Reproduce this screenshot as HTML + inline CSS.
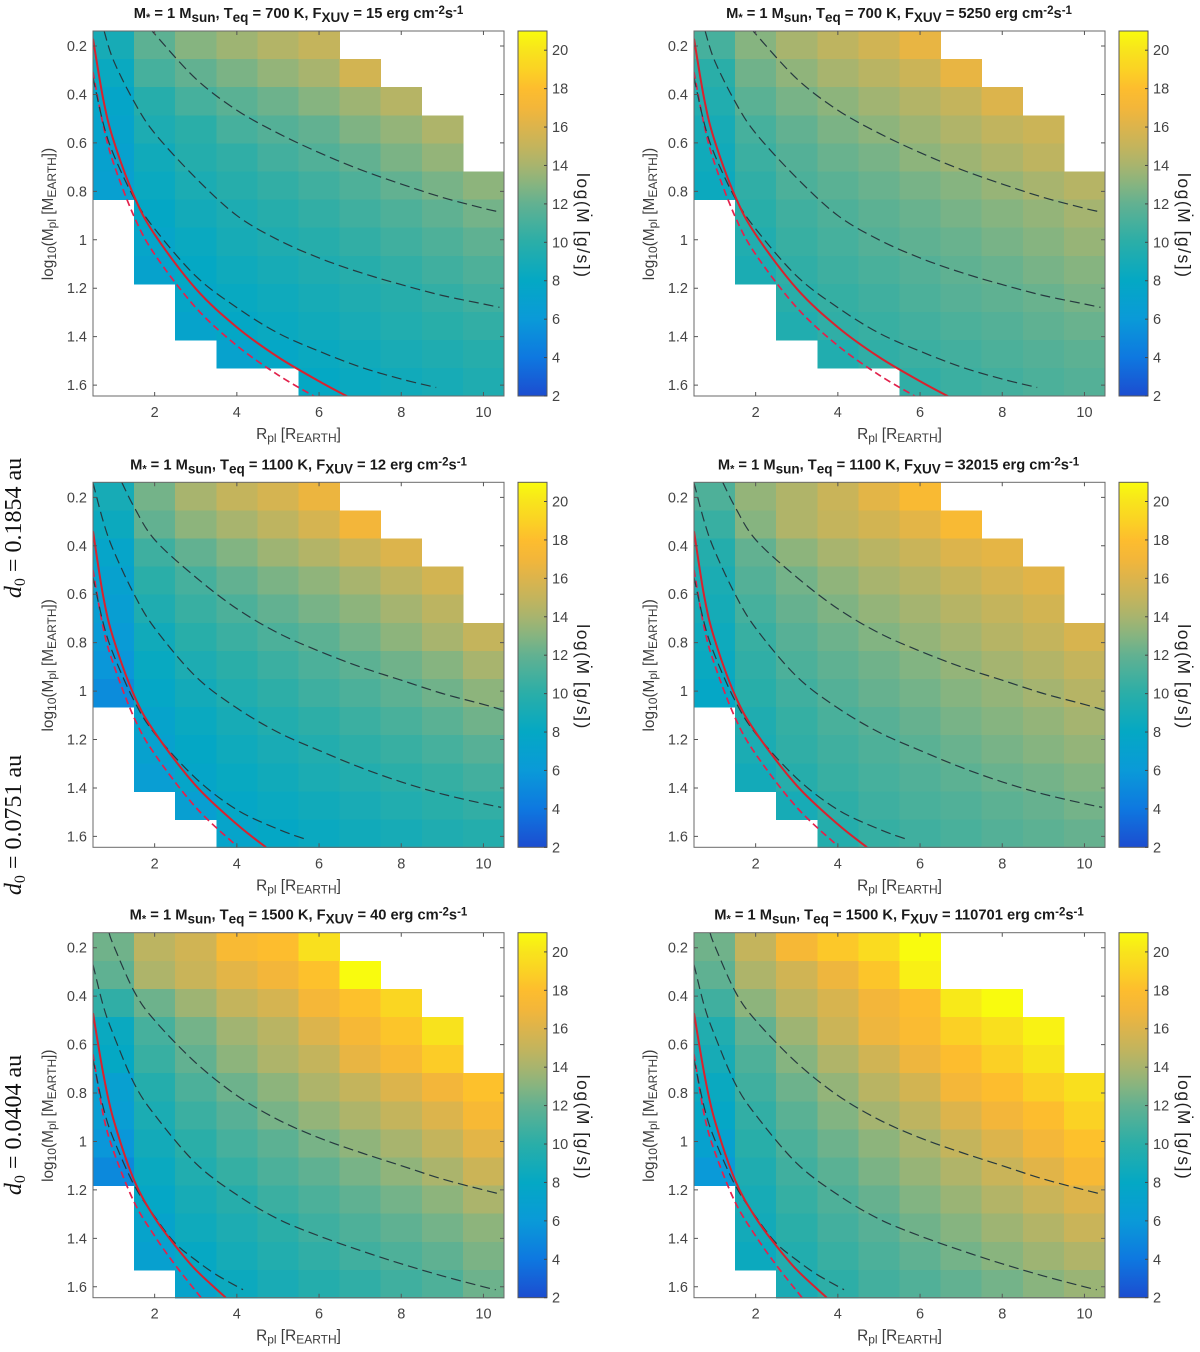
<!DOCTYPE html>
<html lang="en">
<head>
<meta charset="utf-8">
<title>Mass-loss rate heatmaps</title>
<style>
html,body{margin:0;padding:0;background:#fff;}
svg{display:block;}
text{font-family:"Liberation Sans",sans-serif;fill:#404040;}
.title{font-size:14.7px;font-weight:bold;fill:#1a1a1a;text-anchor:middle;}
.axt{font-size:15.4px;fill:#3c3c3c;text-anchor:middle;}
.tick{font-size:14.5px;fill:#444;}
.cbl{font-size:17.5px;fill:#222;text-anchor:middle;}
.side{font-family:"Liberation Serif",serif;font-size:24px;fill:#111;text-anchor:middle;}
</style>
</head>
<body>
<svg id="figure" xmlns="http://www.w3.org/2000/svg" width="1200" height="1352" viewBox="0 0 1200 1352">
<defs id="defs"></defs>
<rect width="1200" height="1352" fill="#fff"></rect>

<text class="side" transform="translate(21,528) rotate(-90)"><tspan font-style="italic">d</tspan><tspan font-size="16" dy="4">0</tspan><tspan dy="-4"> = 0.1854 au</tspan></text>
<text class="side" transform="translate(21,825) rotate(-90)"><tspan font-style="italic">d</tspan><tspan font-size="16" dy="4">0</tspan><tspan dy="-4"> = 0.0751 au</tspan></text>
<text class="side" transform="translate(21,1125) rotate(-90)"><tspan font-style="italic">d</tspan><tspan font-size="16" dy="4">0</tspan><tspan dy="-4"> = 0.0404 au</tspan></text>

<g id="panel-a" transform="translate(0,0)">
<g class="plot"></g>
<text class="title" x="298.5" y="18">M<tspan font-size="11" dy="3">*</tspan><tspan dy="-3"> = 1 M</tspan><tspan font-size="13.5" dy="4">sun</tspan><tspan dy="-4">, T</tspan><tspan font-size="13.5" dy="4">eq</tspan><tspan dy="-4"> = 700 K, F</tspan><tspan font-size="13.5" dy="4">XUV</tspan><tspan dy="-4"> = 15 erg cm</tspan><tspan font-size="11.5" dy="-4">-2</tspan><tspan dy="4">s</tspan><tspan font-size="11.5" dy="-4">-1</tspan></text>
<text class="axt" transform="translate(53,214) rotate(-90)">log<tspan font-size="12" dy="3">10</tspan><tspan dy="-3">(M</tspan><tspan font-size="12" dy="3">pl</tspan><tspan dy="-3"> [M</tspan><tspan font-size="12" dy="3">EARTH</tspan><tspan dy="-3">])</tspan></text>
<text class="axt" x="298.5" y="439">R<tspan font-size="12" dy="3">pl</tspan><tspan dy="-3"> [R</tspan><tspan font-size="12" dy="3">EARTH</tspan><tspan dy="-3">]</tspan></text>
<text class="cbl" transform="translate(577,225) rotate(90)" textLength="104">log(Ṁ [g/s])</text>
</g>

<g id="panel-b" transform="translate(601,0)">
<g class="plot"></g>
<text class="title" x="298" y="18">M<tspan font-size="11" dy="3">*</tspan><tspan dy="-3"> = 1 M</tspan><tspan font-size="13.5" dy="4">sun</tspan><tspan dy="-4">, T</tspan><tspan font-size="13.5" dy="4">eq</tspan><tspan dy="-4"> = 700 K, F</tspan><tspan font-size="13.5" dy="4">XUV</tspan><tspan dy="-4"> = 5250 erg cm</tspan><tspan font-size="11.5" dy="-4">-2</tspan><tspan dy="4">s</tspan><tspan font-size="11.5" dy="-4">-1</tspan></text>
<text class="axt" transform="translate(53,214) rotate(-90)">log<tspan font-size="12" dy="3">10</tspan><tspan dy="-3">(M</tspan><tspan font-size="12" dy="3">pl</tspan><tspan dy="-3"> [M</tspan><tspan font-size="12" dy="3">EARTH</tspan><tspan dy="-3">])</tspan></text>
<text class="axt" x="298.5" y="439">R<tspan font-size="12" dy="3">pl</tspan><tspan dy="-3"> [R</tspan><tspan font-size="12" dy="3">EARTH</tspan><tspan dy="-3">]</tspan></text>
<text class="cbl" transform="translate(577,225) rotate(90)" textLength="104">log(Ṁ [g/s])</text>
</g>

<g id="panel-c" transform="translate(0,451.3)">
<g class="plot"></g>
<text class="title" x="298.5" y="18">M<tspan font-size="11" dy="3">*</tspan><tspan dy="-3"> = 1 M</tspan><tspan font-size="13.5" dy="4">sun</tspan><tspan dy="-4">, T</tspan><tspan font-size="13.5" dy="4">eq</tspan><tspan dy="-4"> = 1100 K, F</tspan><tspan font-size="13.5" dy="4">XUV</tspan><tspan dy="-4"> = 12 erg cm</tspan><tspan font-size="11.5" dy="-4">-2</tspan><tspan dy="4">s</tspan><tspan font-size="11.5" dy="-4">-1</tspan></text>
<text class="axt" transform="translate(53,214) rotate(-90)">log<tspan font-size="12" dy="3">10</tspan><tspan dy="-3">(M</tspan><tspan font-size="12" dy="3">pl</tspan><tspan dy="-3"> [M</tspan><tspan font-size="12" dy="3">EARTH</tspan><tspan dy="-3">])</tspan></text>
<text class="axt" x="298.5" y="439">R<tspan font-size="12" dy="3">pl</tspan><tspan dy="-3"> [R</tspan><tspan font-size="12" dy="3">EARTH</tspan><tspan dy="-3">]</tspan></text>
<text class="cbl" transform="translate(577,225) rotate(90)" textLength="104">log(Ṁ [g/s])</text>
</g>

<g id="panel-d" transform="translate(601,451.3)">
<g class="plot"></g>
<text class="title" x="297.5" y="18">M<tspan font-size="11" dy="3">*</tspan><tspan dy="-3"> = 1 M</tspan><tspan font-size="13.5" dy="4">sun</tspan><tspan dy="-4">, T</tspan><tspan font-size="13.5" dy="4">eq</tspan><tspan dy="-4"> = 1100 K, F</tspan><tspan font-size="13.5" dy="4">XUV</tspan><tspan dy="-4"> = 32015 erg cm</tspan><tspan font-size="11.5" dy="-4">-2</tspan><tspan dy="4">s</tspan><tspan font-size="11.5" dy="-4">-1</tspan></text>
<text class="axt" transform="translate(53,214) rotate(-90)">log<tspan font-size="12" dy="3">10</tspan><tspan dy="-3">(M</tspan><tspan font-size="12" dy="3">pl</tspan><tspan dy="-3"> [M</tspan><tspan font-size="12" dy="3">EARTH</tspan><tspan dy="-3">])</tspan></text>
<text class="axt" x="298.5" y="439">R<tspan font-size="12" dy="3">pl</tspan><tspan dy="-3"> [R</tspan><tspan font-size="12" dy="3">EARTH</tspan><tspan dy="-3">]</tspan></text>
<text class="cbl" transform="translate(577,225) rotate(90)" textLength="104">log(Ṁ [g/s])</text>
</g>

<g id="panel-e" transform="translate(0,901.7)">
<g class="plot"></g>
<text class="title" x="298.5" y="18">M<tspan font-size="11" dy="3">*</tspan><tspan dy="-3"> = 1 M</tspan><tspan font-size="13.5" dy="4">sun</tspan><tspan dy="-4">, T</tspan><tspan font-size="13.5" dy="4">eq</tspan><tspan dy="-4"> = 1500 K, F</tspan><tspan font-size="13.5" dy="4">XUV</tspan><tspan dy="-4"> = 40 erg cm</tspan><tspan font-size="11.5" dy="-4">-2</tspan><tspan dy="4">s</tspan><tspan font-size="11.5" dy="-4">-1</tspan></text>
<text class="axt" transform="translate(53,214) rotate(-90)">log<tspan font-size="12" dy="3">10</tspan><tspan dy="-3">(M</tspan><tspan font-size="12" dy="3">pl</tspan><tspan dy="-3"> [M</tspan><tspan font-size="12" dy="3">EARTH</tspan><tspan dy="-3">])</tspan></text>
<text class="axt" x="298.5" y="439">R<tspan font-size="12" dy="3">pl</tspan><tspan dy="-3"> [R</tspan><tspan font-size="12" dy="3">EARTH</tspan><tspan dy="-3">]</tspan></text>
<text class="cbl" transform="translate(577,225) rotate(90)" textLength="104">log(Ṁ [g/s])</text>
</g>

<g id="panel-f" transform="translate(601,901.7)">
<g class="plot"></g>
<text class="title" x="298" y="18">M<tspan font-size="11" dy="3">*</tspan><tspan dy="-3"> = 1 M</tspan><tspan font-size="13.5" dy="4">sun</tspan><tspan dy="-4">, T</tspan><tspan font-size="13.5" dy="4">eq</tspan><tspan dy="-4"> = 1500 K, F</tspan><tspan font-size="13.5" dy="4">XUV</tspan><tspan dy="-4"> = 110701 erg cm</tspan><tspan font-size="11.5" dy="-4">-2</tspan><tspan dy="4">s</tspan><tspan font-size="11.5" dy="-4">-1</tspan></text>
<text class="axt" transform="translate(53,214) rotate(-90)">log<tspan font-size="12" dy="3">10</tspan><tspan dy="-3">(M</tspan><tspan font-size="12" dy="3">pl</tspan><tspan dy="-3"> [M</tspan><tspan font-size="12" dy="3">EARTH</tspan><tspan dy="-3">])</tspan></text>
<text class="axt" x="298.5" y="439">R<tspan font-size="12" dy="3">pl</tspan><tspan dy="-3"> [R</tspan><tspan font-size="12" dy="3">EARTH</tspan><tspan dy="-3">]</tspan></text>
<text class="cbl" transform="translate(577,225) rotate(90)" textLength="104">log(Ṁ [g/s])</text>
</g>
</svg>

<script>
// ---- categories and tick labels ----
const radii = [1,2,3,4,5,6,7,8,9,10];
const massBins = [0.196,0.312,0.428,0.544,0.660,0.776,0.892,1.008,1.124,1.240,1.356,1.472,1.588];
const xTickValues = [2,4,6,8,10];
const yTickValues = [0.2,0.4,0.6,0.8,1,1.2,1.4,1.6];
const cbTickValues = [2,4,6,8,10,12,14,16,18,20];

// ---- colour scale ----
const cbStopValues = [2,4,6,8,10,12,13,14,15,16,17,18,19,20,21];
const cbStopColors = ['#1c4dd0','#0e78e0','#0a9ad8','#04a8c4','#2aaea8','#62b191','#86b480','#a8b46e','#c4b45c','#dcb44c','#f3b63a','#fdbd2e','#fbd224','#f8e41c','#f9fb0e'];

// ---- log mass-loss rate per cell (rows: mass bins, columns: radii) ----
const _ = null;
const mdotA = [
[9,11.8,13,13.7,14.4,15,_,_,_,_],
[8.3,11,12,12.7,13.4,14,15.6,_,_,_],
[7.6,9.8,11,11.7,12.3,13,13.7,14.5,_,_],
[7.3,9.3,10,11,11.5,12,12.8,13.4,14.2,_],
[7,8.7,9.7,10.2,10.9,11.4,12,12.7,13.4,_],
[6.8,8.3,9.2,9.8,10.3,10.8,11.3,12,12.6,13.2],
[_,7.9,8.8,9.3,9.8,10.3,10.8,11.3,11.9,12.5],
[_,7.5,8.3,9,9.4,9.8,10.3,10.8,11.3,11.9],
[_,7.2,8,8.6,9,9.4,9.8,10.3,10.8,11.3],
[_,_,7.7,8.2,8.6,9,9.4,9.8,10.3,10.8],
[_,_,7.3,7.9,8.3,8.7,9.1,9.5,9.9,10.3],
[_,_,_,7.1,7.8,8.3,8.7,9.1,9.4,9.8],
[_,_,_,_,_,8,8.3,8.7,9,9.4]];
const mdotB = [
[11,13,14,14.8,15.5,16.5,_,_,_,_],
[10,12.4,13.3,14,14.6,15.3,16.5,_,_,_],
[9.5,11.7,12.6,13.2,13.8,14.4,15,16,_,_],
[9,11,12,12.7,13.2,13.7,14.3,14.9,15.3,_],
[8.7,10.6,11.5,12.2,12.6,13.2,13.7,14.2,14.8,_],
[8.4,10.2,11.2,11.7,12.2,12.6,13,13.5,14,14.5],
[_,9.9,10.8,11.3,11.8,12.2,12.6,13,13.4,13.9],
[_,9.5,10.5,11,11.5,11.9,12.2,12.6,13,13.5],
[_,9.2,10.2,10.7,11.1,11.5,11.9,12.2,12.6,13],
[_,_,9.9,10.4,10.8,11.2,11.6,11.9,12.2,12.6],
[_,_,9.5,10.2,10.5,10.9,11.2,11.5,11.9,12.2],
[_,_,_,9.5,10.2,10.6,10.9,11.2,11.5,11.8],
[_,_,_,_,_,10.2,10.6,10.9,11.2,11.5]];
const mdotC = [
[9,12.5,14,15,15.7,16.7,_,_,_,_],
[8.4,12,13.2,14,14.8,15.7,17,_,_,_],
[7.5,10.7,12,12.9,13.7,14.4,15.2,16,_,_],
[7,10,11,12,12.7,13.3,14,14.8,15.6,_],
[6.6,9.4,10.5,11.2,12,12.6,13.2,13.9,14.7,_],
[6.2,8.7,9.9,10.6,11.2,11.8,12.5,13.2,14,15],
[5.8,8.2,9.3,10,10.6,11.2,11.8,12.4,13,14],
[5.2,7.8,8.8,9.5,10.1,10.7,11.2,11.8,12.4,13.2],
[_,7.3,8.3,9,9.6,10.1,10.6,11.1,11.7,12.4],
[_,7,7.9,8.6,9.1,9.6,10.1,10.5,11,11.6],
[_,6.5,7.6,8.2,8.7,9.2,9.6,10,10.4,10.9],
[_,_,6.7,7.8,8.3,8.7,9.1,9.5,9.9,10.3],
[_,_,_,7.4,7.9,8.3,8.7,9,9.4,9.7]];
const mdotD = [
[11.3,13.4,14.3,15.2,16.3,17.6,_,_,_,_],
[10.5,13,14.3,15,15.6,16.3,17.5,_,_,_],
[9.7,12,13.2,14,14.6,15.2,16,16.4,_,_],
[9.2,11.5,12.5,13.3,14,14.5,15.1,15.7,16.2,_],
[8.9,11,12.1,12.8,13.4,13.9,14.5,15,15.6,_],
[8.5,10.5,11.6,12.3,12.9,13.4,13.9,14.5,15,15.8],
[8.3,10.2,11.2,11.9,12.4,12.9,13.4,13.9,14.4,15],
[7.8,9.9,10.8,11.5,12.1,12.5,13,13.4,13.9,14.5],
[_,9.4,10.4,11.1,11.6,12.1,12.6,13,13.4,13.9],
[_,9.2,10.2,10.8,11.3,11.7,12.2,12.6,13,13.4],
[_,8.8,9.8,10.5,11,11.4,11.8,12.2,12.5,12.9],
[_,_,9,10.1,10.7,11.1,11.4,11.8,12.1,12.5],
[_,_,_,9.7,10.4,10.8,11.1,11.5,11.8,12.1]];
const mdotE = [
[12.4,14.7,15.5,17.5,18,19.8,_,_,_,_],
[11.9,14.2,15.2,16.3,17,18.2,21,_,_,_],
[10.2,12.3,13.7,15,15.7,17.2,18.2,19.2,_,_],
[8.3,11,12.5,13.8,14.6,16,17.3,18.4,19.9,_],
[8,10.5,12,13.2,14.2,15,16.5,17.5,18.7,_],
[6.8,9.7,11.2,12.3,13.2,14.2,15,16,17,18.2],
[6.5,9.2,10.6,11.6,12.6,13.4,14.2,15,16,17.4],
[5.8,8.8,10,11,11.8,12.6,13.3,14,15,16.3],
[5,8.3,9.5,10.4,11.2,11.9,12.6,13.3,14.1,15.3],
[_,7.8,9,9.8,10.6,11.2,11.9,12.5,13.2,14.1],
[_,7.3,8.6,9.3,10,10.7,11.3,11.9,12.5,13.2],
[_,6.9,8.1,8.9,9.6,10.2,10.8,11.3,11.9,12.7],
[_,_,7.3,8.4,9.1,9.7,10.2,10.8,11.3,12.3]];
const mdotF = [
[12.4,15,17.3,18.5,19.5,21,_,_,_,_],
[11.9,14.2,15.5,16.8,18.4,20.5,_,_,_,_],
[10.8,13.2,14.7,15.8,17,18,20.2,21,_,_],
[9.5,12,13.7,15.3,16.8,17.7,18.9,19.7,20.6,_],
[9,11.3,13,14.3,15.5,16.8,18,18.9,20,_],
[8.3,10.8,12.3,13.4,14.6,15.6,17.1,18,18.9,19.7],
[7.8,10.3,11.7,12.9,13.9,14.8,16,17,18,19],
[7,9.9,11.2,12.3,13.2,14,15,16,17.1,18.2],
[6,9.4,10.8,11.7,12.7,13.5,14.3,15.2,16.2,17.4],
[_,9,10.4,11.3,12.1,12.9,13.6,14.4,15.2,16],
[_,8.8,10,10.9,11.6,12.4,13,13.7,14.4,15.2],
[_,8.4,9.6,10.5,11.2,11.9,12.5,13.1,13.7,14.3],
[_,_,9.1,10.1,10.9,11.4,12,12.5,13.1,13.6]];

// ---- curves: radius and log mass samples ----
const row1TopR = [1.96,2,3,4,5,6,7,8,9,10,10.39];
const row1TopM = [.138,.15,.335,.465,.56,.64,.71,.77,.825,.87,.885];
const row1MidR = [.77,1,1.5,2,3,4,5,6,7,8,9,10,10.39];
const row1MidM = [.138,.26,.43,.56,.745,.9,1,1.075,1.135,1.185,1.23,1.265,1.279];
const row1LowR = [.5,.75,1,1.5,2,3,4,5,6,7,8,8.85];
const row1LowM = [.33,.52,.648,.828,.955,1.15,1.28,1.385,1.46,1.525,1.575,1.61];
const row1SolidR = [.5,.75,1,1.5,2,3,4,5,6,6.7];
const row1SolidM = [.17,.42,.59,.82,.978,1.202,1.361,1.484,1.584,1.648];
const row1DashR = [.5,.75,1,1.5,2,3,4,5,5.9];
const row1DashM = [.308,.528,.684,.904,1.06,1.28,1.437,1.558,1.648];

const row2TopR = [1.2,1.5,2,3,4,5,6,7,8,9,10,10.5];
const row2TopM = [.138,.24,.375,.53,.66,.76,.835,.9,.955,1.01,1.055,1.08];
const row2MidR = [.5,.75,1,1.5,2,3,4,5,6,7,8,9,10,10.43];
const row2MidM = [.14,.3,.42,.6,.74,.94,1.07,1.17,1.245,1.315,1.375,1.425,1.465,1.48];
const row2LowR = [.5,.75,1,1.5,2,3,4,5,5.64];
const row2LowM = [.53,.72,.85,1.04,1.175,1.36,1.49,1.57,1.61];
const row2SolidR = [.5,.75,1,1.5,2,3,4,4.71];
const row2SolidM = [.34,.61,.785,1.018,1.17,1.39,1.55,1.645];
const row2DashR = [.5,.75,1,1.5,2,3,4];
const row2DashM = [.5,.74,.89,1.11,1.26,1.48,1.64];

const row3TopR = [.89,1,1.5,2,3,4,5,6,7,8,9,10,10.43];
const row3TopM = [.138,.19,.38,.5,.675,.81,.91,.985,1.045,1.1,1.155,1.2,1.218];
const row3MidR = [.5,.75,1,1.5,2,3,4,5,6,7,8,9,10,10.3];
const row3MidM = [.27,.44,.56,.76,.89,1.09,1.22,1.32,1.39,1.45,1.505,1.555,1.6,1.612];
const row3LowR = [.5,.75,1,1.5,2,2.5,3,3.5,4.15];
const row3LowM = [.66,.86,.99,1.18,1.31,1.42,1.49,1.55,1.612];
const row3SolidR = [.5,.75,1,1.5,2,2.5,3,3.73];
const row3SolidM = [.47,.72,.91,1.16,1.315,1.43,1.53,1.645];
const row3DashR = [.5,.75,1,1.5,2,2.5,3.13];
const row3DashM = [.64,.89,1.04,1.25,1.39,1.51,1.645];

// ---- axes ----
const plotLeft = 93, plotRight = 504, plotTop = 31, plotBottom = 396;
const cbLeft = 518, cbRight = 547;
const xMin = 0.5, xMax = 10.5, yMin = 0.138, yMax = 1.645, cMin = 2, cMax = 21;
const binHalf = 0.058;
function xScale(r){ return plotLeft + (r - xMin) / (xMax - xMin) * (plotRight - plotLeft); }
function yScale(m){ return plotTop + (m - yMin) / (yMax - yMin) * (plotBottom - plotTop); }
function cScale(v){ return plotBottom - (v - cMin) / (cMax - cMin) * (plotBottom - plotTop); }

const NS = 'http://www.w3.org/2000/svg';
function mk(tag, attrs, parent){
  const n = document.createElementNS(NS, tag);
  for (const k in attrs) n.setAttribute(k, attrs[k]);
  parent.appendChild(n);
  return n;
}
function hexToRgb(h){ return [parseInt(h.slice(1,3),16),parseInt(h.slice(3,5),16),parseInt(h.slice(5,7),16)]; }
function colorFor(v){
  const s = cbStopValues, c = cbStopColors;
  if (v <= s[0]) return c[0];
  if (v >= s[s.length-1]) return c[c.length-1];
  for (let i = 0; i < s.length-1; i++){
    if (v <= s[i+1]){
      const t = (v - s[i]) / (s[i+1] - s[i]);
      const a = hexToRgb(c[i]), b = hexToRgb(c[i+1]);
      return 'rgb(' + a.map((x,j)=>Math.round(x + (b[j]-x)*t)).join(',') + ')';
    }
  }
  return c[c.length-1];
}
function smoothPath(rs, ms){
  const p = rs.map((r,i)=>[xScale(r), yScale(ms[i])]);
  let d = 'M' + p[0][0].toFixed(2) + ' ' + p[0][1].toFixed(2);
  for (let i = 0; i < p.length-1; i++){
    const p0 = p[Math.max(i-1,0)], p1 = p[i], p2 = p[i+1], p3 = p[Math.min(i+2,p.length-1)];
    const c1x = p1[0] + (p2[0]-p0[0])/6, c1y = p1[1] + (p2[1]-p0[1])/6;
    const c2x = p2[0] - (p3[0]-p1[0])/6, c2y = p2[1] - (p3[1]-p1[1])/6;
    d += 'C' + c1x.toFixed(2) + ' ' + c1y.toFixed(2) + ' ' + c2x.toFixed(2) + ' ' + c2y.toFixed(2) + ' ' + p2[0].toFixed(2) + ' ' + p2[1].toFixed(2);
  }
  return d;
}

// shared gradient and clip
const defs = document.getElementById('defs');
const grad = mk('linearGradient', {id:'cbGrad', x1:'0', y1:'1', x2:'0', y2:'0'}, defs);
cbStopValues.forEach((v,i)=>{
  mk('stop', {offset:((v-cMin)/(cMax-cMin)).toFixed(4), 'stop-color':cbStopColors[i]}, grad);
});
const clip = mk('clipPath', {id:'plotClip'}, defs);
mk('rect', {x:plotLeft, y:plotTop, width:plotRight-plotLeft, height:plotBottom-plotTop}, clip);

function drawCurve(g, rs, ms, stroke, width, dash, name){
  const attrs = {d:smoothPath(rs,ms), fill:'none', stroke:stroke, 'stroke-width':width};
  if (dash) attrs['stroke-dasharray'] = dash;
  const c = mk('path', attrs, g);
  
  
}

function drawPanel(id, matrix, curves){
  const root = document.querySelector('#' + id + ' .plot');

  const cells = mk('g', {'shape-rendering':'crispEdges'}, root);
  
  
  massBins.forEach((m,ri)=>{
    radii.forEach((r,ci)=>{
      const v = matrix[ri][ci];
      if (v === null) return;
      const x0 = xScale(r-0.5), x1 = xScale(r+0.5), y0 = yScale(m-binHalf), y1 = yScale(m+binHalf);
      const cell = mk('rect', {x:x0.toFixed(2), y:y0.toFixed(2), width:(x1-x0+0.4).toFixed(2), height:(y1-y0+0.4).toFixed(2), fill:colorFor(v)}, cells);
      
      
    });
  });

  const lines = mk('g', {'clip-path':'url(#plotClip)'}, root);
  
  
  drawCurve(lines, curves.dashR, curves.dashM, '#e2224c', 1.7, '7 4', 'red-dashed-curve');
  drawCurve(lines, curves.lowR, curves.lowM, '#26393f', 1.2, '10 5', 'lower-black-dashed-curve');
  drawCurve(lines, curves.midR, curves.midM, '#26393f', 1.2, '10 5', 'middle-black-dashed-curve');
  drawCurve(lines, curves.topR, curves.topM, '#26393f', 1.2, '10 5', 'upper-black-dashed-curve');
  drawCurve(lines, curves.solidR, curves.solidM, '#d8222e', 2, '', 'red-solid-curve');

  const frame = mk('rect', {x:plotLeft, y:plotTop, width:plotRight-plotLeft, height:plotBottom-plotTop, fill:'none', stroke:'#6a6a6a', 'stroke-width':1}, root);
  
  

  xTickValues.forEach(t=>{
    const x = xScale(t);
    const tk = mk('path', {d:'M'+x+' '+plotBottom+'v-4M'+x+' '+plotTop+'v4', stroke:'#555', 'stroke-width':1}, root);
    
    
    const lb = mk('text', {x:x, y:plotBottom+21, class:'tick', 'text-anchor':'middle'}, root);
    lb.textContent = String(t);
    
    
  });
  yTickValues.forEach(t=>{
    const y = yScale(t);
    const tk = mk('path', {d:'M'+plotLeft+' '+y+'h4M'+plotRight+' '+y+'h-4', stroke:'#555', 'stroke-width':1}, root);
    
    
    const lb = mk('text', {x:plotLeft-6, y:y+5, class:'tick', 'text-anchor':'end'}, root);
    lb.textContent = String(t);
    
    
  });

  const bar = mk('rect', {x:cbLeft, y:plotTop, width:cbRight-cbLeft, height:plotBottom-plotTop, fill:'url(#cbGrad)', stroke:'#5a5a5a', 'stroke-width':1}, root);
  
  
  cbTickValues.forEach(t=>{
    const y = cScale(t);
    const tk = mk('path', {d:'M'+cbRight+' '+y+'h-3', stroke:'#444', 'stroke-width':1}, root);
    
    
    const lb = mk('text', {x:cbRight+5, y:y+5, class:'tick'}, root);
    lb.textContent = String(t);
    
    
  });
}

const row1Curves = {topR:row1TopR, topM:row1TopM, midR:row1MidR, midM:row1MidM, lowR:row1LowR, lowM:row1LowM, solidR:row1SolidR, solidM:row1SolidM, dashR:row1DashR, dashM:row1DashM};
const row2Curves = {topR:row2TopR, topM:row2TopM, midR:row2MidR, midM:row2MidM, lowR:row2LowR, lowM:row2LowM, solidR:row2SolidR, solidM:row2SolidM, dashR:row2DashR, dashM:row2DashM};
const row3Curves = {topR:row3TopR, topM:row3TopM, midR:row3MidR, midM:row3MidM, lowR:row3LowR, lowM:row3LowM, solidR:row3SolidR, solidM:row3SolidM, dashR:row3DashR, dashM:row3DashM};

drawPanel('panel-a', mdotA, row1Curves);
drawPanel('panel-b', mdotB, row1Curves);
drawPanel('panel-c', mdotC, row2Curves);
drawPanel('panel-d', mdotD, row2Curves);
drawPanel('panel-e', mdotE, row3Curves);
drawPanel('panel-f', mdotF, row3Curves);
</script>
</body>
</html>
